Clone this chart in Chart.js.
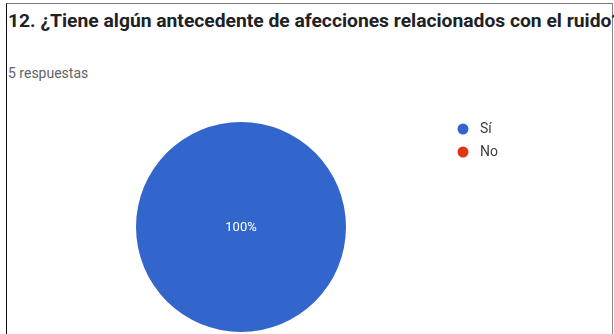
<!DOCTYPE html>
<html>
<head>
<meta charset="utf-8">
<script src="https://cdn.jsdelivr.net/npm/chart.js@4/dist/chart.umd.min.js"></script>
<style>
  html, body { margin: 0; padding: 0; background: #fff; }
  #wrap { position: relative; width: 614px; height: 334px; overflow: hidden; background: #fff; }
  #frame { position: absolute; left: 6px; top: 3px; width: 605px; height: 340px;
           border-left: 1px solid #111; border-top: 1px solid #777; border-right: 1px solid #888; }
  #title { position: absolute; left: 8px; top: 10px; white-space: nowrap; line-height: 18px;
           font: bold 18px Roboto, "Liberation Sans", sans-serif; color: #202124;
           transform-origin: 0 0; transform: scaleX(1.07); }
  #sub { position: absolute; left: 8px; top: 65px; white-space: nowrap; line-height: 14px;
         font: 14px Roboto, "Liberation Sans", sans-serif; color: #5f6368; }
  #pie { position: absolute; left: 0; top: 0; }
</style>
</head>
<body>
<div id="wrap">
  <div id="frame"></div>
  <div id="title">12. ¿Tiene algún antecedente de afecciones relacionados con el ruido?</div>
  <div id="sub">5 respuestas</div>
  <canvas id="pie" width="614" height="334"></canvas>
</div>
<script>
const categories = ['Sí', 'No'];
const responses = [5, 0];
const sliceColors = ['#3366CC', '#DC3912'];

// Percentage labels drawn at each slice's own position
const sliceLabels = {
  id: 'sliceLabels',
  afterDatasetsDraw(chart) {
    const ctx = chart.ctx;
    const data = chart.data.datasets[0].data;
    const total = data.reduce((a, b) => a + b, 0);
    const meta = chart.getDatasetMeta(0);
    ctx.save();
    ctx.fillStyle = '#ffffff';
    ctx.font = '13px Roboto, "Liberation Sans", sans-serif';
    ctx.textAlign = 'center';
    ctx.textBaseline = 'middle';
    meta.data.forEach((arc, i) => {
      if (!data[i]) return;
      const pct = Math.round(data[i] / total * 100) + '%';
      const p = data[i] === total ? { x: arc.x, y: arc.y } : arc.tooltipPosition();
      ctx.fillText(pct, p.x, p.y + 1);
    });
    ctx.restore();
  }
};

// Legend list at the right of the pie
const sideLegend = {
  id: 'sideLegend',
  afterDraw(chart) {
    const ctx = chart.ctx;
    const labels = chart.data.labels;
    const colors = chart.data.datasets[0].backgroundColor;
    const x0 = 463, y0 = 129, step = 23;
    ctx.save();
    ctx.font = '14px Roboto, "Liberation Sans", sans-serif';
    ctx.textBaseline = 'middle';
    labels.forEach((lab, i) => {
      const y = y0 + i * step;
      ctx.beginPath();
      ctx.arc(x0, y, 5.5, 0, Math.PI * 2);
      ctx.fillStyle = colors[i];
      ctx.fill();
      ctx.fillStyle = '#3c4043';
      ctx.fillText(lab, x0 + 17, y + 0.5);
    });
    ctx.restore();
  }
};

new Chart(document.getElementById('pie'), {
  type: 'pie',
  data: {
    labels: categories,
    datasets: [{
      data: responses,
      backgroundColor: sliceColors,
      borderColor: '#ffffff',
      borderWidth: 0
    }]
  },
  options: {
    responsive: false,
    animation: false,
    layout: { padding: { left: 136, top: 122, right: 268, bottom: 2 } },
    plugins: {
      legend: { display: false },
      tooltip: { enabled: false }
    }
  },
  plugins: [sliceLabels, sideLegend]
});
</script>
</body>
</html>
